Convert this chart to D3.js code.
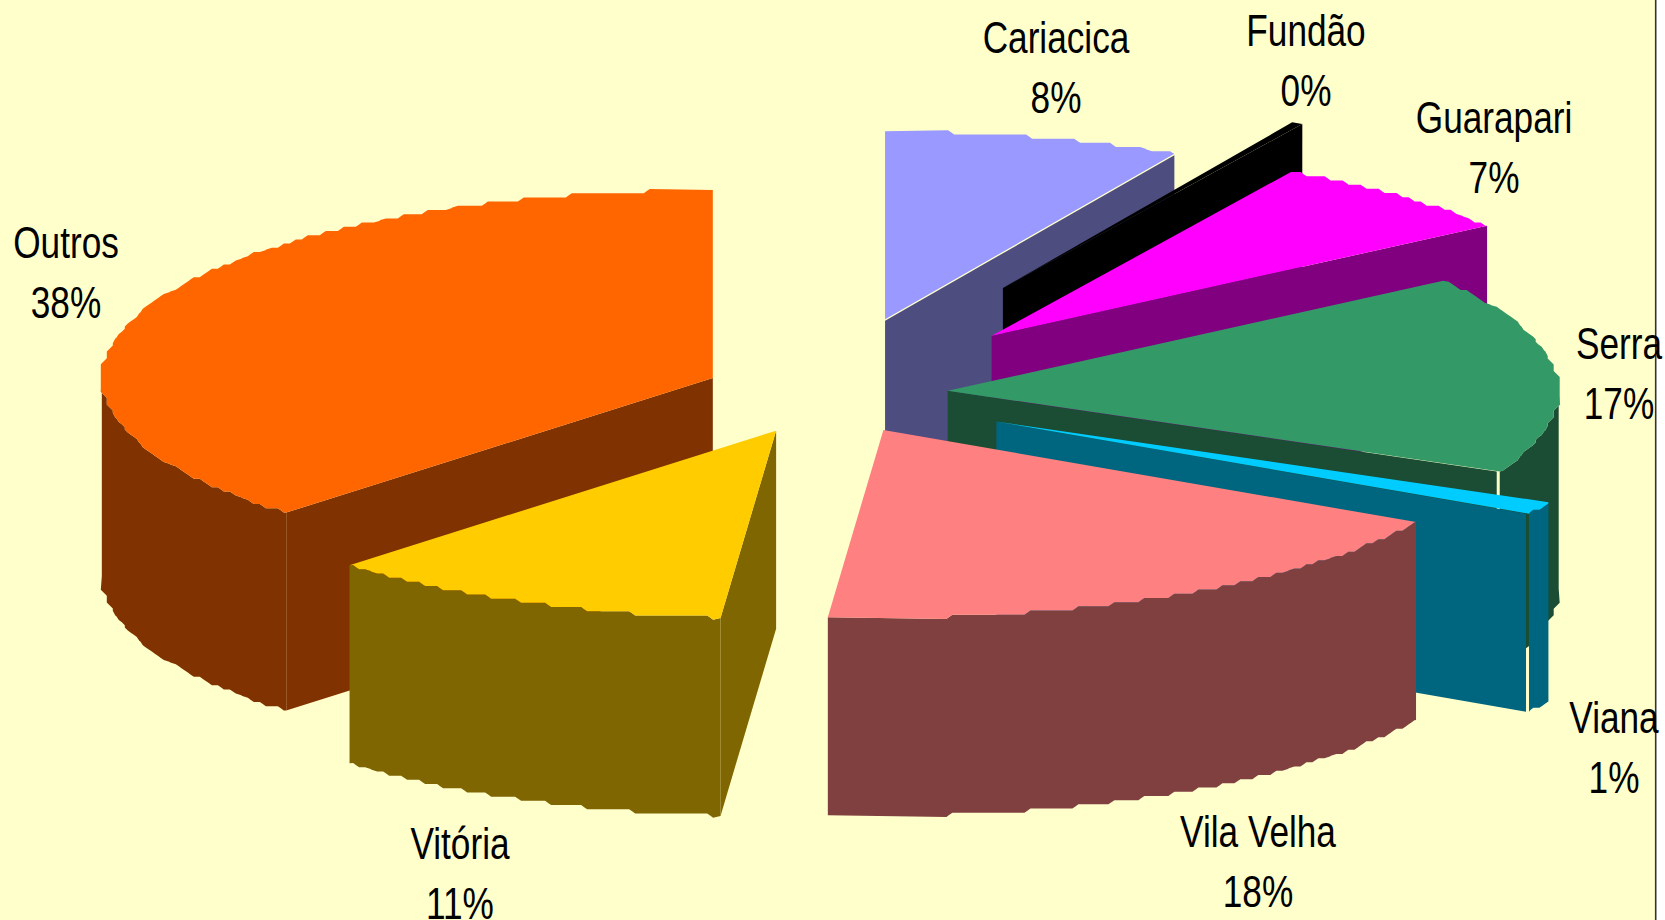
<!DOCTYPE html>
<html><head><meta charset="utf-8">
<script src="https://cdn.jsdelivr.net/npm/d3@7"></script>
<style>html,body{margin:0;padding:0;background:#FFFFCC;overflow:hidden}svg{display:block}</style>
</head><body><svg id="c" width="1665" height="920"></svg>
<script>
// ---- data ----
const cities = ["Cariacica","Fundão","Guarapari","Serra","Viana","Vila Velha","Vitória","Outros"];
const shares = [7.85,0.3,6.9,17,1.1,18.3,10.85,37.7];
const shareLabels = ["8%","0%","7%","17%","1%","18%","11%","38%"];
// ---- explosion of each slice along its bisector (fraction of the radius, across and along the view) ----
const explodeX = [0.396,0.601,0.407,0.2,0.314,0.202,0.195,0.2];
const explodeY = [0.421,0.656,0.429,0.3,0.296,0.204,0.203,0.254];
// ---- styles ----
const topColors = ["#9999FF","#000000","#FF00FF","#339966","#00CCFF","#FF8080","#FFCC00","#FF6600"];
const sideColors = ["#4D4D80","#000000","#800080","#1A4D33","#006680","#804040","#806600","#803300"];
const seamX = [0,0,0,3,3,0,0,0];      // open seam between end wall and rim wall
const seamY = [1.5,0,0,0,0,0,0,0];    // open seam under the top face's end edge
// ---- layout ----
const W=1665,H=920, cx=826, cy=396, rx=611, ry=188, depth=198;
const stepX=6, stepY=4.2, chamfer=3;
const frameX=1655.7;
const labelCentres=[1056,1306,1494,1619,1614,1258,460,66];
const labelBaselines=[53,46,133,359,733,847,859,258];
const labelGap=59.5, fontSize=44, squeeze=0.80;

const svg=d3.select("#c");
svg.append("rect").attr("width",W).attr("height",H).attr("fill","#FFFFCC");
svg.append("rect").attr("x",frameX).attr("width",W-frameX).attr("height",H).attr("fill","#FFFFFF");
svg.append("line").attr("x1",frameX).attr("x2",frameX).attr("y1",0).attr("y2",H).attr("stroke","#333333").attr("stroke-width",1.6);

const pie=d3.pie().sort(null).value(d=>d).startAngle(0).endAngle(2*Math.PI);
const arcs=pie(shares);
const px=d3.scaleLinear().domain([-1,1]).range([-rx,rx]);
const py=d3.scaleLinear().domain([-1,1]).range([ry,-ry]);
const line=d3.line();

function toward(a,b,len){const dx=b[0]-a[0],dy=b[1]-a[1],l=Math.hypot(dx,dy)||1,m=Math.min(len,l/2);return [a[0]+dx/l*m,a[1]+dy/l*m];}
// stair-stepped rim, as the coarse rendering of the reference has it
function rim(a0,a1,ox,oy){
  const n=Math.max(4,Math.ceil((a1-a0)*600)),cells=[];
  for(let i=0;i<=n;i++){
    const t=a0+(a1-a0)*i/n,x=px(Math.sin(t)),y=py(Math.cos(t));
    const c=[Math.round(x/stepX)*stepX,Math.round(y/stepY)*stepY];
    const l=cells[cells.length-1];
    if(!l||l[0]!==c[0]||l[1]!==c[1])cells.push(c);
  }
  const s=[cells[0]];
  for(let i=1;i<cells.length-1;i++){
    const a=s[s.length-1],b=cells[i],c=cells[i+1];
    if((a[0]===b[0]&&b[0]===c[0])||(a[1]===b[1]&&b[1]===c[1]))continue;
    s.push(b);
  }
  s.push(cells[cells.length-1]);
  const out=[[px(Math.sin(a0)),py(Math.cos(a0))]];
  for(let i=1;i<s.length-1;i++){out.push(toward(s[i],s[i-1],chamfer));out.push(toward(s[i],s[i+1],chamfer));}
  out.push([px(Math.sin(a1)),py(Math.cos(a1))]);
  return out.map(p=>[p[0]+ox,p[1]+oy]);
}
const pieces=arcs.map((d,i)=>{
  const m=(d.startAngle+d.endAngle)/2;
  const ox=cx+explodeX[i]*px(Math.sin(m)),oy=cy+explodeY[i]*py(Math.cos(m));
  return {i,d,ox,oy,rimTop:rim(d.startAngle,d.endAngle,ox,oy)};
});
// painter's order: back slices first; Outros before Vitória
const order=[0,1,2,3,4,5,7,6];
const g=svg.selectAll("g.slice").data(order.map(i=>pieces[i])).join("g").attr("class","slice");
g.each(function(p){
  const s=d3.select(this),r=p.rimTop,apex=[p.ox,p.oy],first=r[0],last=r[r.length-1],c=sideColors[p.i];
  const sx=seamX[p.i],sy=seamY[p.i];
  const wall=(a,b)=>[[a[0],a[1]+sy],[b[0],b[1]+sy],[b[0],b[1]+depth],[a[0],a[1]+depth]];
  // a radial wall is drawn only when it faces the viewer
  if(Math.sin(p.d.startAngle)<0) s.append("path").attr("fill",c).attr("d",line(wall(apex,first))+"Z");
  if(Math.sin(p.d.endAngle)>0) s.append("path").attr("fill",c).attr("d",line(wall(apex,[last[0]-sx,last[1]]))+"Z");
  // only the front part of the rim wall faces the viewer
  const f0=Math.max(p.d.startAngle,Math.PI/2),f1=Math.min(p.d.endAngle,3*Math.PI/2);
  if(f1>f0){
    const fr=rim(f0,f1,p.ox,p.oy);
    const low=fr.map(q=>[q[0],q[1]+depth]).reverse();
    s.append("path").attr("fill",c).attr("d",line(fr.concat(low))+"Z");
  }
  s.append("path").attr("fill",topColors[p.i]).attr("d",line([apex].concat(r))+"Z");
});
// labels
const lab=svg.selectAll("g.label").data(cities).join("g").attr("class","label")
  .attr("font-family","'Liberation Sans',Arial,sans-serif").attr("font-size",fontSize).attr("fill","#000").attr("text-anchor","middle");
lab.append("text").attr("transform",(d,i)=>`translate(${labelCentres[i]},${labelBaselines[i]}) scale(${squeeze},1)`).text(d=>d);
lab.append("text").attr("transform",(d,i)=>`translate(${labelCentres[i]},${labelBaselines[i]+labelGap}) scale(${squeeze},1)`).text((d,i)=>shareLabels[i]);
</script></body></html>
